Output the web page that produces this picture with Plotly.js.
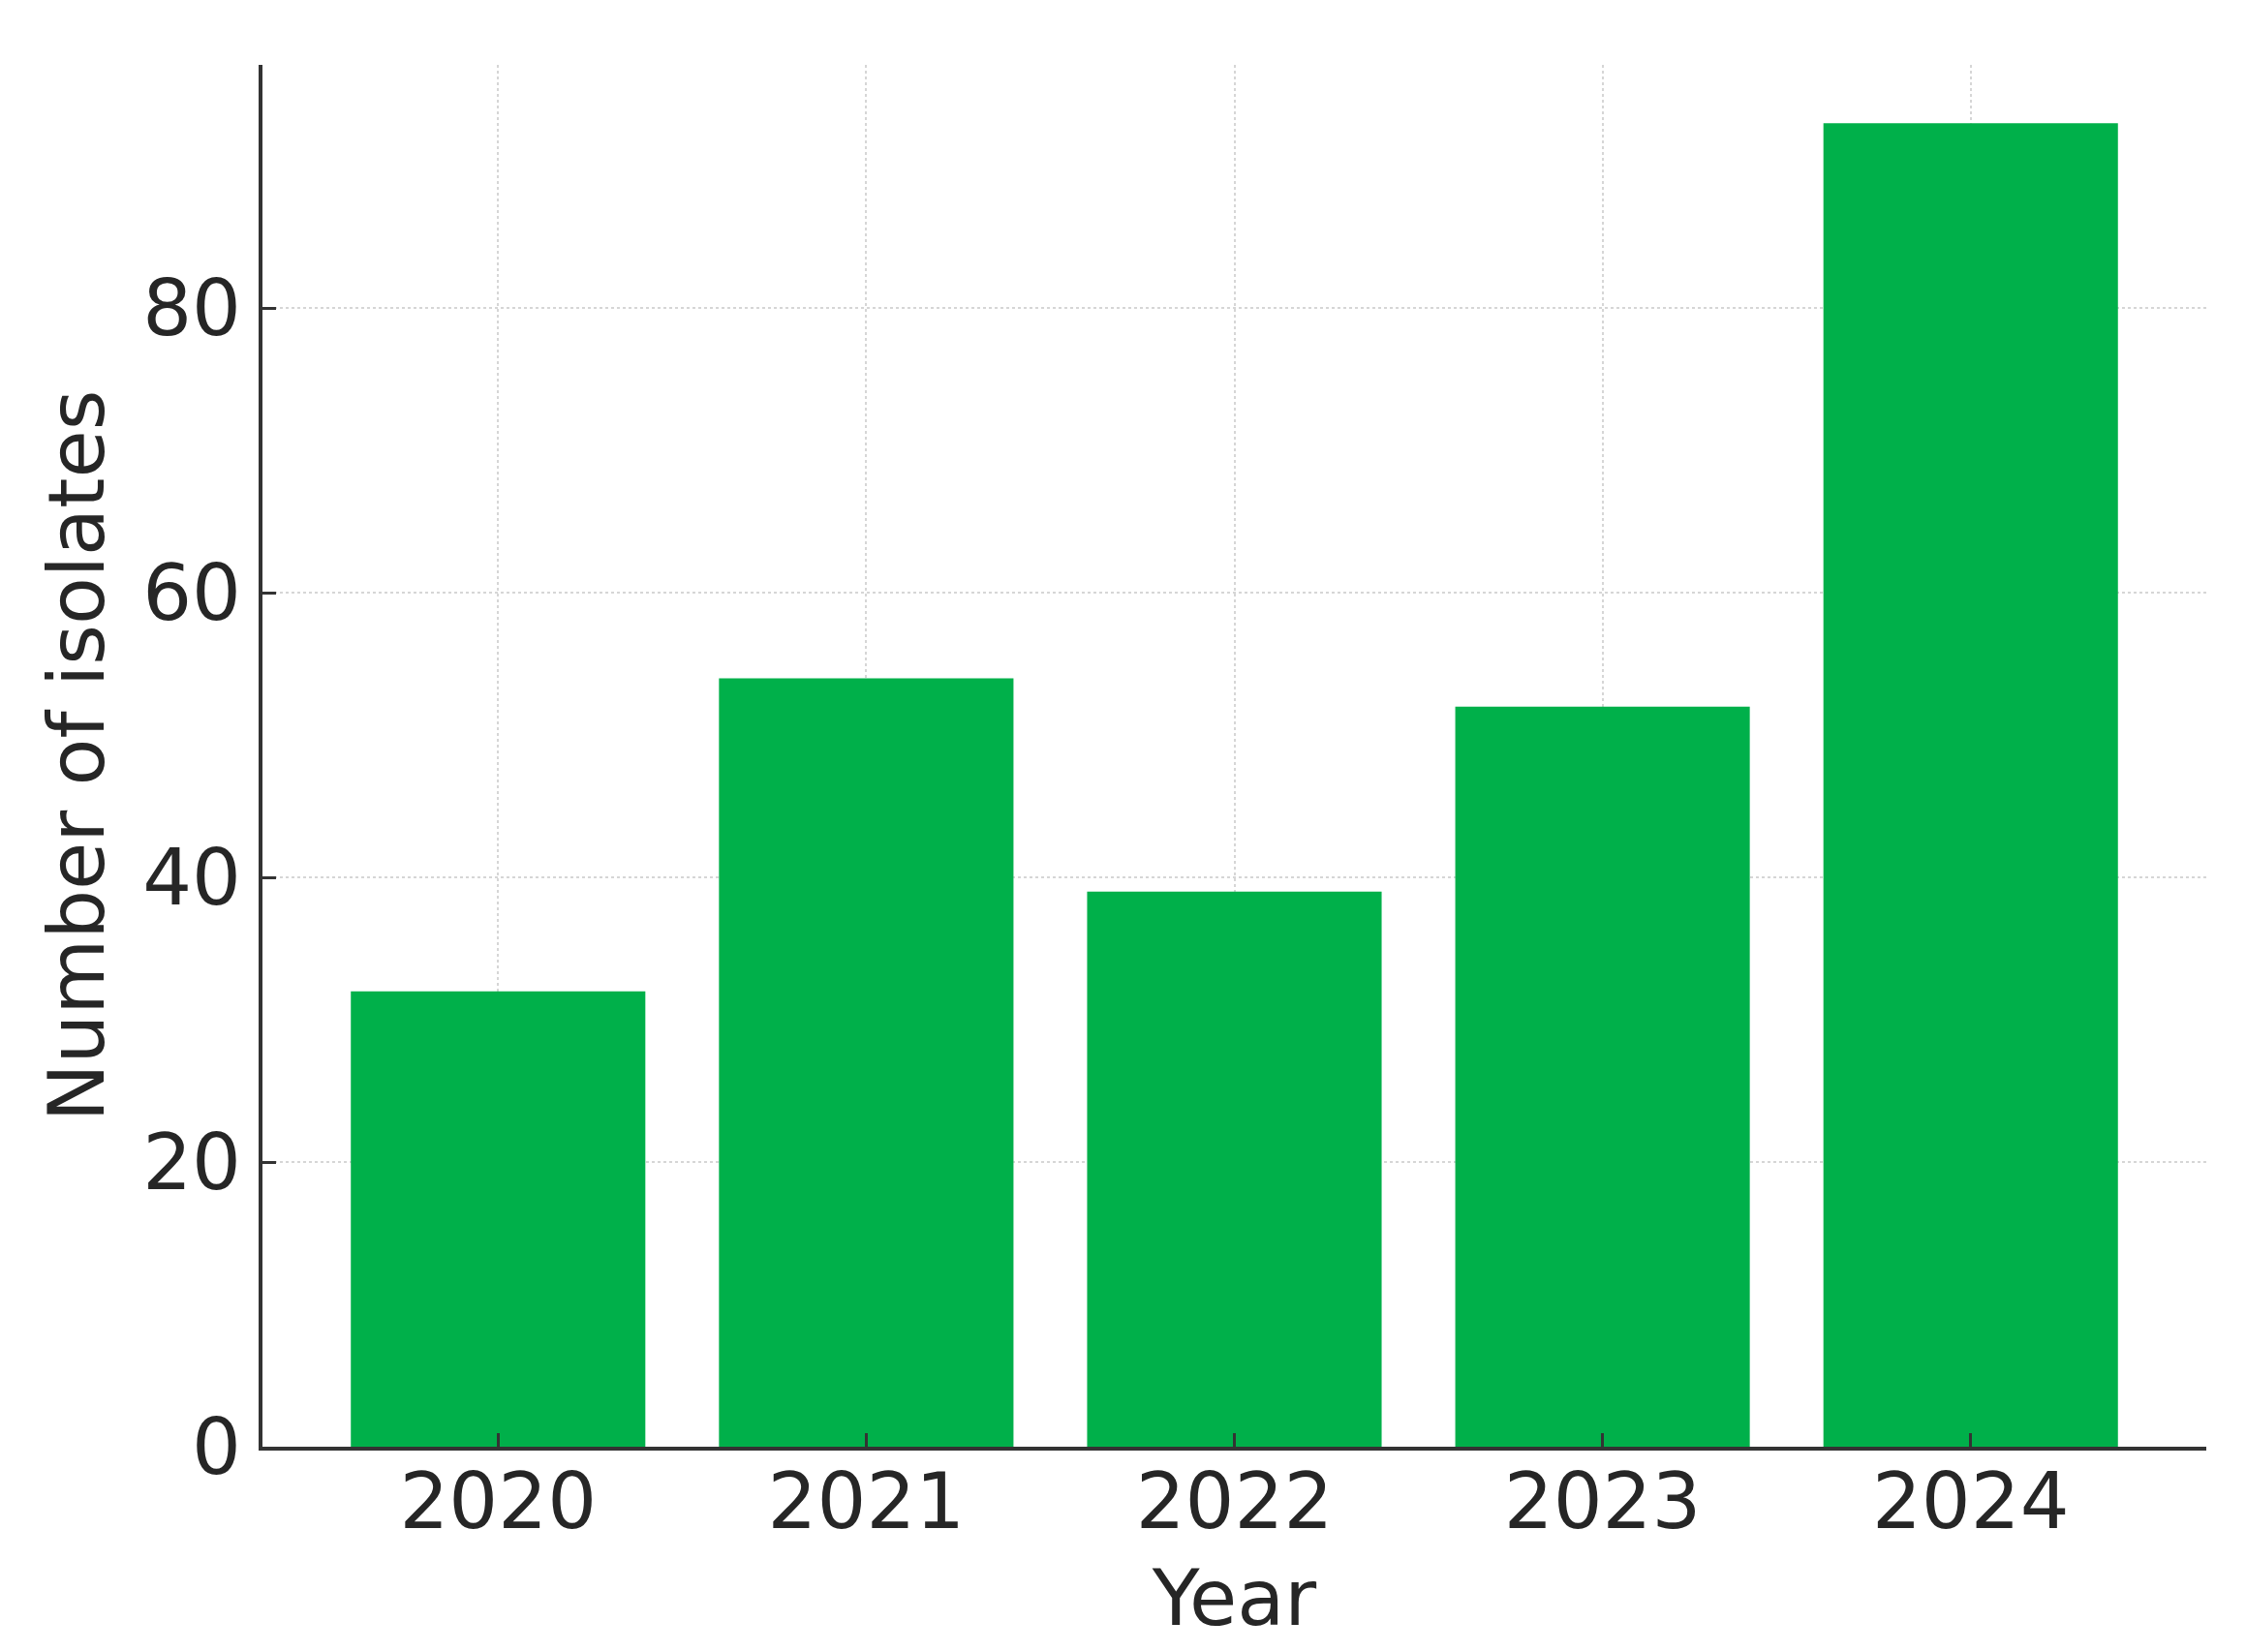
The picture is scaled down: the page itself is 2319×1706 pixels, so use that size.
<!DOCTYPE html>
<html>
<head>
<meta charset="utf-8">
<script src="https://cdn.plot.ly/plotly-3.0.1.min.js"></script>
<style>
  html, body { margin: 0; padding: 0; background: #ffffff; }
  #chart { width: 2319px; height: 1706px; }
</style>
</head>
<body>
<div id="chart"></div>
<script>
const years = ["2020", "2021", "2022", "2023", "2024"];
const isolates = [32, 54, 39, 52, 93];
const yTickValues = [0, 20, 40, 60, 80];
const xTitle = "Year";
const yTitle = "Number of isolates";

const fontFamily = "DejaVu Sans, sans-serif";
const textColor = "#262626";

const trace = {
  type: "bar",
  x: years,
  y: isolates,
  width: 0.8,
  marker: { color: "#00b04a", line: { width: 0 } },
  hoverinfo: "x+y"
};

const layout = {
  width: 2319,
  height: 1706,
  margin: { l: 271, r: 41, t: 67, b: 212 },
  paper_bgcolor: "#ffffff",
  plot_bgcolor: "#ffffff",
  showlegend: false,
  font: { family: fontFamily, size: 80, color: textColor },
  xaxis: {
    type: "category",
    range: [-0.64, 4.64],
    showline: true,
    linecolor: "#333333",
    linewidth: 4,
    ticks: "inside",
    ticklen: 14,
    tickwidth: 3,
    tickcolor: "#333333",
    showgrid: true,
    gridcolor: "#d6d6d6",
    gridwidth: 2,
    griddash: "dot",
    zeroline: false,
    tickfont: { family: fontFamily, size: 80, color: textColor },
    ticklabelstandoff: -16,
    title: { text: xTitle, font: { family: fontFamily, size: 80, color: textColor }, standoff: 27 }
  },
  yaxis: {
    range: [0, 97.1],
    tickvals: yTickValues,
    showline: true,
    linecolor: "#333333",
    linewidth: 4,
    ticks: "inside",
    ticklen: 14,
    tickwidth: 3,
    tickcolor: "#333333",
    showgrid: true,
    gridcolor: "#d6d6d6",
    gridwidth: 2,
    griddash: "dot",
    zeroline: false,
    tickfont: { family: fontFamily, size: 80, color: textColor },
    ticklabelstandoff: 2,
    title: { text: yTitle, font: { family: fontFamily, size: 80, color: textColor }, standoff: 14 }
  }
};

Plotly.newPlot("chart", [trace], layout, { displayModeBar: false, staticPlot: true });
</script>
</body>
</html>
